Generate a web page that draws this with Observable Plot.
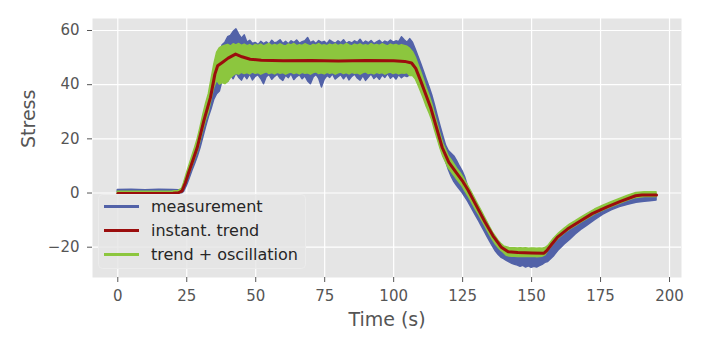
<!DOCTYPE html>
<html>
<head>
<meta charset="utf-8">
<script src="https://cdn.jsdelivr.net/npm/d3@7"></script>
<script src="https://cdn.jsdelivr.net/npm/@observablehq/plot@0.6"></script>
<style>
  html, body { margin: 0; padding: 0; background: white; }
  #chart { position: relative; width: 703px; height: 351px; }
</style>
</head>
<body>
<div id="chart"></div>
<script>
// ---- Data ----
const xTicks = [0, 25, 50, 75, 100, 125, 150, 175, 200];
const yTicks = [-20, 0, 20, 40, 60];
const seriesNames = ["measurement", "instant. trend", "trend + oscillation"];

// instantaneous trend (red)
const trendT = [0, 10, 20, 22, 23.3, 24.5, 25.7, 28.8, 31.2, 33.6, 35.2, 36.2, 38, 40, 42.7, 45, 48, 52, 60, 70, 80, 90, 100, 104, 106.5, 108, 109.8, 113.4, 117.6, 120, 122.5, 124.9, 127, 130.3, 133, 136, 139, 141.5, 145, 150, 154.5, 155.5, 157, 159.3, 163, 167.8, 172, 177.4, 182, 187.7, 190, 195.3];
const trendV = [-0.2, -0.2, -0.1, 0.1, 0.8, 3.8, 7.6, 16.8, 26.7, 35.3, 43.9, 47.0, 48.3, 49.8, 51.3, 50.3, 49.4, 49.0, 48.8, 48.9, 48.7, 48.9, 48.8, 48.6, 48.0, 46.0, 41.4, 31.6, 16.8, 11.3, 7.8, 4.5, 1.0, -5.3, -10.5, -15.8, -20.0, -21.7, -22.0, -22.1, -22.2, -21.3, -19.3, -16.4, -13.3, -10.2, -7.6, -5.1, -3.2, -1.0, -0.7, -0.7];

// envelope sample times for the noisy series
const envT = [
  0, 5, 10, 15, 20, 22,
  23.3, 24, 25, 26, 27, 28, 29, 30, 31, 32, 33, 34, 35, 36, 37,
  38, 39, 40, 41, 42, 43, 44, 45, 46, 47, 48, 49, 50, 51, 52, 53, 54, 55, 56, 57, 58, 59, 60, 61, 62, 63, 64, 65, 66, 67, 68, 69, 70, 71, 72, 73, 74, 75, 76, 77, 78, 79, 80, 81, 82, 83, 84, 85, 86, 87, 88, 89, 90, 91, 92, 93, 94, 95, 96, 97, 98, 99, 100, 101, 102, 103, 104, 105,
  106, 107, 108, 109, 110, 111, 112, 113, 114, 115, 116, 117, 118, 119, 120, 121, 122, 123, 124, 125, 126, 127, 128, 129, 130, 131, 132, 133, 134, 135, 136, 137, 138, 139, 140,
  141, 142, 143, 144, 145, 146, 147, 148, 149, 150, 151, 152, 153, 154, 155,
  156, 158, 160, 162, 164, 166, 168, 170, 173, 176, 179, 182, 185, 188, 191, 193, 195.3
];

// measurement (blue) lower / upper envelope
const blueLo = [
  0.3, 0.2, 0.4, 0.2, 0.3, 0.2,
  -0.1, 0.4, 2.5, 5.2, 8.0, 10.6, 13.4, 16.6, 20.5, 24.4, 28.0, 31.0, 34.5, 36.5, 37.5,
  41.5, 42.5, 41.0, 43.5, 42.0, 44.2, 42.6, 41.5, 43.4, 42.0, 43.8, 41.6, 42.9, 43.5, 42.1, 40.2, 42.8, 43.6, 41.8, 42.9, 43.7, 42.2, 41.4, 43.3, 42.4, 43.9, 41.7, 42.8, 43.5, 42.0, 43.1, 41.2, 40.2, 42.7, 43.6, 42.2, 39.0, 41.8, 43.2, 42.5, 43.8, 41.9, 42.8, 43.5, 42.0, 43.4, 41.6, 42.9, 43.7, 42.3, 41.5, 43.2, 41.4, 42.6, 43.8, 42.1, 43.0, 41.8, 43.4, 42.5, 43.9, 42.2, 43.1, 41.9, 43.5, 42.4, 43.2, 42.8,
  43.5, 43.5, 42.5, 40.5, 38.0, 35.4, 32.7, 30.2, 27.5, 24.0, 20.5, 17.0, 14.0, 11.5, 8.5, 6.0, 4.0, 2.6, 1.3, 0.0, -1.6, -3.2, -5.0, -6.9, -8.7, -10.5, -12.4, -14.3, -16.2, -18.0, -19.8, -21.5, -22.8, -23.8, -24.4,
  -25.0, -25.6, -26.1, -26.5, -26.8, -27.2, -26.9, -27.5, -27.1, -27.6, -27.2, -27.5, -27.0, -26.5, -25.8,
  -25.5, -23.5, -21.0, -19.0, -17.2, -15.3, -13.6, -12.2, -10.0, -8.0, -6.4, -5.2, -4.3, -3.6, -3.2, -3.0, -2.8
];
const blueHi = [
  1.1, 1.2, 1.0, 1.2, 1.1, 1.0,
  1.0, 2.2, 5.5, 8.6, 11.8, 15.0, 18.2, 22.0, 26.0, 30.2, 34.0, 38.5, 43.0, 48.5, 52.0,
  54.5, 55.5, 57.5, 58.0, 59.5, 60.4, 58.5, 57.0, 58.2, 55.5, 56.2, 55.0, 55.4, 54.6, 55.8, 55.0, 55.6, 54.8, 56.2, 55.2, 55.6, 56.4, 55.0, 55.8, 54.9, 56.0, 55.4, 56.3, 55.1, 55.7, 56.0, 57.2, 55.3, 55.9, 55.0, 56.1, 55.4, 55.8, 54.9, 56.3, 55.6, 55.1, 56.0, 55.3, 56.4, 55.0, 55.7, 55.2, 56.0, 55.4, 56.6, 55.1, 55.9, 55.3, 56.1, 55.0, 55.6, 56.2, 55.2, 55.9, 55.4, 56.3, 55.5, 56.0, 55.7, 57.5, 56.4, 55.5,
  56.8, 55.5, 53.0, 50.3, 47.6, 44.8, 41.8, 39.0, 36.0, 32.3, 28.4, 24.6, 21.0, 17.5, 15.5, 14.5, 13.5, 11.8, 9.8, 8.0, 5.6, 2.2, 0.3, -1.6, -3.6, -5.5, -7.4, -9.3, -11.2, -13.2, -15.0, -16.6, -18.0, -19.2, -20.2,
  -21.0, -21.2, -21.4, -21.4, -21.6, -21.5, -21.6, -21.5, -21.7, -21.6, -21.6, -21.7, -21.6, -21.5, -21.0,
  -21.5, -19.5, -17.2, -15.4, -13.8, -12.4, -11.0, -9.8, -8.0, -6.5, -5.1, -3.9, -2.9, -2.1, -1.7, -1.6, -1.5
];

// trend + oscillation (green) lower / upper envelope
const greenLo = [
  -0.3, -0.3, -0.3, -0.3, -0.2, -0.2,
  0.2, 1.6, 4.2, 7.0, 9.8, 12.6, 15.4, 19.2, 23.2, 26.8, 29.8, 34.6, 39.0, 41.5, 40.0,
  40.6, 40.2, 41.0, 42.4, 43.3, 44.0, 43.7, 44.4, 43.9, 44.3, 43.8, 44.5, 44.0, 44.3, 43.7, 44.2, 44.6, 43.9, 44.3, 43.8, 44.4, 44.0, 44.3, 43.7, 44.2, 44.5, 43.9, 44.3, 43.8, 44.4, 44.0, 44.2, 43.7, 44.3, 44.6, 43.9, 44.2, 43.8, 44.4, 44.0, 44.3, 43.7, 44.2, 44.5, 43.9, 44.3, 43.8, 44.4, 44.0, 44.2, 43.7, 44.3, 44.6, 43.9, 44.2, 43.8, 44.4, 44.0, 44.3, 43.7, 44.2, 44.5, 43.9, 44.3, 43.8, 44.2, 44.0, 44.3,
  43.2, 43.2, 42.0, 39.7, 37.2, 34.6, 31.8, 29.5, 26.8, 23.1, 19.7, 16.3, 13.4, 11.3, 9.1, 7.7, 6.4, 5.0, 3.7, 2.4, 0.6, -1.0, -2.8, -4.7, -6.5, -8.2, -10.1, -11.9, -13.8, -15.6, -17.4, -18.9, -20.2, -21.3, -22.1,
  -23.2, -23.4, -23.5, -23.5, -23.6, -23.5, -23.6, -23.5, -23.6, -23.6, -23.5, -23.7, -23.6, -23.5, -23.0,
  -21.4, -18.8, -16.7, -14.9, -13.4, -12.2, -10.9, -9.7, -7.9, -6.5, -5.2, -4.0, -2.8, -1.8, -1.5, -1.5, -1.5
];
const greenHi = [
  0.5, 0.5, 0.5, 0.5, 0.6, 0.7,
  1.6, 3.6, 7.0, 10.3, 13.5, 16.6, 20.0, 24.2, 28.8, 33.0, 36.5, 42.0, 47.5, 51.8, 53.5,
  54.0, 54.4, 54.7, 54.1, 54.9, 54.5, 55.0, 54.3, 54.8, 54.2, 54.6, 54.0, 54.7, 54.3, 54.8, 54.1, 54.6, 55.0, 54.2, 54.7, 54.3, 54.9, 54.4, 54.1, 54.8, 54.5, 55.0, 54.2, 54.6, 54.3, 54.9, 54.5, 54.1, 54.7, 54.4, 55.0, 54.3, 54.6, 54.2, 54.8, 54.4, 54.9, 54.2, 54.7, 54.3, 55.0, 54.5, 54.1, 54.8, 54.4, 54.9, 54.3, 54.6, 54.2, 55.0, 54.4, 54.7, 54.3, 54.9, 54.5, 54.1, 54.8, 54.4, 54.7, 54.2, 54.6, 54.3, 54.0,
  53.2, 52.0, 50.0, 47.3, 44.6, 41.6, 38.6, 35.9, 32.8, 28.9, 25.1, 21.5, 18.2, 15.9, 13.5, 12.1, 10.6, 9.0, 7.7, 6.2, 4.4, 2.6, 0.8, -1.1, -3.1, -5.0, -6.9, -8.9, -10.8, -12.8, -14.6, -16.1, -17.6, -18.7, -19.7,
  -20.0, -20.3, -20.4, -20.4, -20.5, -20.4, -20.5, -20.4, -20.6, -20.5, -20.5, -20.6, -20.5, -20.6, -20.3,
  -19.6, -17.0, -14.9, -13.1, -11.6, -10.4, -9.1, -7.9, -6.1, -4.7, -3.4, -2.2, -1.0, 0.0, 0.3, 0.3, 0.3
];

// ---- Styling ----
const BLUE = "#5262a8", RED = "#9b0d0d", GREEN = "#8cc63e";
const colors = [BLUE, RED, GREEN];

const env = envT.map((t, i) => ({t, bLo: blueLo[i], bHi: blueHi[i], gLo: greenLo[i], gHi: greenHi[i]}));
const trend = trendT.map((t, i) => ({t, v: trendV[i]}));
const fmt = d => d < 0 ? "\u2212" + Math.abs(d) : String(d);

const svg = Plot.plot({
  width: 703, height: 351,
  marginLeft: 92, marginRight: 22, marginTop: 18, marginBottom: 74,
  x: {domain: [-9.17, 204.34]},
  y: {domain: [-31.19, 64.43]},
  style: {fontFamily: "DejaVu Sans", fontSize: "15px", color: "#555", background: "white", overflow: "visible"},
  marks: [
    Plot.frame({fill: "#E5E5E5", stroke: "none"}),
    Plot.gridX(xTicks, {stroke: "white", strokeOpacity: 1, strokeWidth: 1.2}),
    Plot.gridY(yTicks, {stroke: "white", strokeOpacity: 1, strokeWidth: 1.2}),
    Plot.areaY(env, {x: "t", y1: "bLo", y2: "bHi", fill: BLUE, stroke: BLUE, strokeWidth: 1.5, strokeLinejoin: "round"}),
    Plot.areaY(env, {x: "t", y1: "gLo", y2: "gHi", fill: GREEN, stroke: GREEN, strokeWidth: 1.5, strokeLinejoin: "round"}),
    Plot.line(trend, {x: "t", y: "v", stroke: RED, strokeWidth: 3}),
    Plot.axisX(xTicks, {tickSize: 5, tickPadding: 8, label: null, stroke: "#555", fill: "#555", fontSize: 15}),
    Plot.axisY(yTicks, {tickSize: 5, tickPadding: 8, label: null, tickFormat: fmt, stroke: "#555", fill: "#555", fontSize: 15}),
    Plot.text(["Stress"], {text: d => d, frameAnchor: "left", dx: -64, rotate: -90, fontSize: 19, fill: "#555"}),
    Plot.text(["Time (s)"], {text: d => d, frameAnchor: "bottom", dy: 48, fontSize: 19, fill: "#555"})
  ]
});

// legend (inside the plot, lower left)
const g = d3.select(svg).append("g").attr("font-family", "DejaVu Sans").attr("text-anchor", "start");
g.append("rect")
  .attr("x", 98.5).attr("y", 194.5).attr("width", 207).attr("height", 74)
  .attr("rx", 4).attr("fill", "#E5E5E5").attr("fill-opacity", 0.8)
  .attr("stroke", "#ececec").attr("stroke-width", 1);
const rowY = [206.5, 230.5, 254.5];
seriesNames.forEach((name, i) => {
  g.append("line").attr("x1", 104).attr("x2", 139).attr("y1", rowY[i]).attr("y2", rowY[i])
    .attr("stroke", colors[i]).attr("stroke-width", 3);
  g.append("text").attr("x", 151).attr("y", rowY[i] + 5.8).attr("text-anchor", "start")
    .attr("font-size", 16).attr("fill", "#262626").text(name);
});

document.getElementById("chart").appendChild(svg);
</script>
</body>
</html>
